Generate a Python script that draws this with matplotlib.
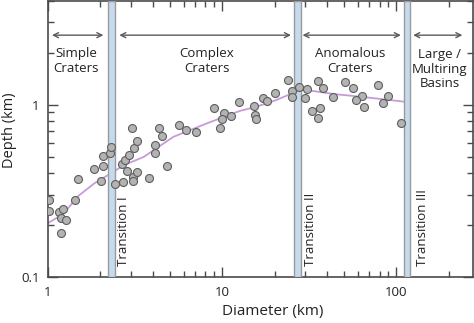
import numpy as np
import matplotlib
matplotlib.use('Agg')
import matplotlib.pyplot as plt
from matplotlib.ticker import LogLocator, NullFormatter

plt.rcParams['font.family'] = ['Open Sans', 'DejaVu Sans']

# crater data (diameter km, depth km)
diam = [1.013, 1.02, 1.157, 1.227, 1.18, 1.268, 1.183, 1.43, 1.48, 1.83,
        2.02, 2.07, 2.07, 2.27, 2.31, 2.43, 2.68, 2.66, 2.78, 2.93,
        3.11, 3.24, 2.85, 3.07, 3.08, 3.23, 3.80, 4.14, 4.14, 4.82,
        3.03, 4.35, 4.53, 5.64, 6.19, 7.07, 8.96, 10.25, 10.0, 9.72,
        11.29, 12.47, 15.2, 15.4, 15.6, 17.2, 18.1, 20.0, 24.0, 25.2,
        25.3, 27.6, 30.5, 29.8, 35.6, 37.7, 43.3, 32.8, 36.5, 35.4,
        50.7, 56.2, 63.1, 58.7, 65.0, 78.0, 89.9, 83.9, 106.3]
depth = [0.282, 0.242, 0.239, 0.248, 0.219, 0.214, 0.180, 0.281, 0.373, 0.422,
         0.359, 0.439, 0.503, 0.527, 0.569, 0.347, 0.355, 0.452, 0.475, 0.511,
         0.557, 0.612, 0.412, 0.382, 0.360, 0.405, 0.378, 0.580, 0.527, 0.438,
         0.727, 0.727, 0.659, 0.764, 0.713, 0.692, 0.952, 0.897, 0.822, 0.735,
         0.862, 1.038, 0.987, 0.875, 0.822, 1.098, 1.052, 1.162, 1.378, 1.193,
         1.105, 1.268, 1.231, 1.092, 1.364, 1.251, 1.106, 0.918, 0.952, 0.833,
         1.346, 1.247, 1.124, 1.063, 0.965, 1.296, 1.120, 1.027, 0.785]

# fitted trend
fit_diam = [1.0, 1.235, 1.47, 1.84, 2.29, 2.73, 3.55, 5.24, 8.14, 12.6,
            15.6, 20.3, 26.5, 28.9, 44.9, 64.4, 114]
fit_depth = [0.206, 0.234, 0.292, 0.349, 0.399, 0.446, 0.498, 0.650, 0.777, 0.918,
             0.969, 1.059, 1.186, 1.221, 1.147, 1.106, 1.035]

# transition zones
trans_lo = [2.21, 25.9, 110.7]
trans_hi = [2.42, 28.2, 119.8]
trans_names = ['Transition I', 'Transition II', 'Transition III']
trans_text_x = [2.73, 31.9, 142]

# regime arrows and labels
arrow_lo = [1.054, 2.565, 28.9, 124.7]
arrow_hi = [2.08, 24.8, 106, 239]
regime_names = ['Simple\nCraters', 'Complex\nCraters', 'Anomalous\nCraters',
                'Large /\nMultiring\nBasins']
regime_x = [1.45, 8.14, 54.0, 177.5]
regime_y = [1.79, 1.79, 1.79, 1.60]

fig = plt.figure(figsize=(4.74, 3.23), dpi=100)
ax = fig.add_axes([48/474, 1-277.3/323, 425/474, 276.8/323])
ax.set_xscale('log')
ax.set_yscale('log')
ax.set_xlim(1, 275)
ax.set_ylim(0.1, 4)

txt = '#222222'
spine_c = '#4a4a4a'

for lo, hi in zip(trans_lo, trans_hi):
    ax.axvspan(lo, hi, facecolor='#c6daee', edgecolor='#9a9a9a', lw=1.0, zorder=3)

ax.plot(fit_diam, fit_depth, color='#c99ad9', lw=1.3, zorder=2)
ax.scatter(diam, depth, s=33, facecolor='#b3b3b3', edgecolor='#5e5e5e',
           linewidths=0.8, zorder=4)

for name, x in zip(trans_names, trans_text_x):
    ax.text(x, 0.1162, name, rotation=90, ha='center', va='bottom',
            fontsize=9.5, color=txt, zorder=5)

for lo, hi in zip(arrow_lo, arrow_hi):
    ax.annotate('', xy=(lo, 2.52), xytext=(hi, 2.52),
                arrowprops=dict(arrowstyle='<->', color='#5a5a5a', lw=1.0,
                                mutation_scale=9, shrinkA=0, shrinkB=0))

for name, x, y in zip(regime_names, regime_x, regime_y):
    ax.text(x, y, name, ha='center', va='center', fontsize=9.5,
            color=txt, linespacing=1.15)

ax.set_xticks([1, 10, 100])
ax.set_xticklabels(['1', '10', '100'])
ax.set_yticks([0.1, 1])
ax.set_yticklabels(['0.1', '1'])
ax.xaxis.set_minor_locator(LogLocator(base=10, subs=np.arange(2, 10)))
ax.yaxis.set_minor_locator(LogLocator(base=10, subs=np.arange(2, 10)))
ax.xaxis.set_minor_formatter(NullFormatter())
ax.yaxis.set_minor_formatter(NullFormatter())
ax.tick_params(which='both', direction='in', top=True, right=True,
               color=spine_c, labelsize=9.5, labelcolor=txt, width=1.0)
ax.tick_params(which='major', length=7, pad=6)
ax.tick_params(which='minor', length=4)

for s in ax.spines.values():
    s.set_color(spine_c)
    s.set_linewidth(1.2)

ax.set_xlabel('Diameter (km)', fontsize=11, color=txt)
ax.set_ylabel('Depth (km)', fontsize=10.5, color=txt)
ax.xaxis.set_label_coords(0.529, -0.095)
ax.yaxis.set_label_coords(-0.072, 0.53)

fig.savefig('out.png', dpi=100)
